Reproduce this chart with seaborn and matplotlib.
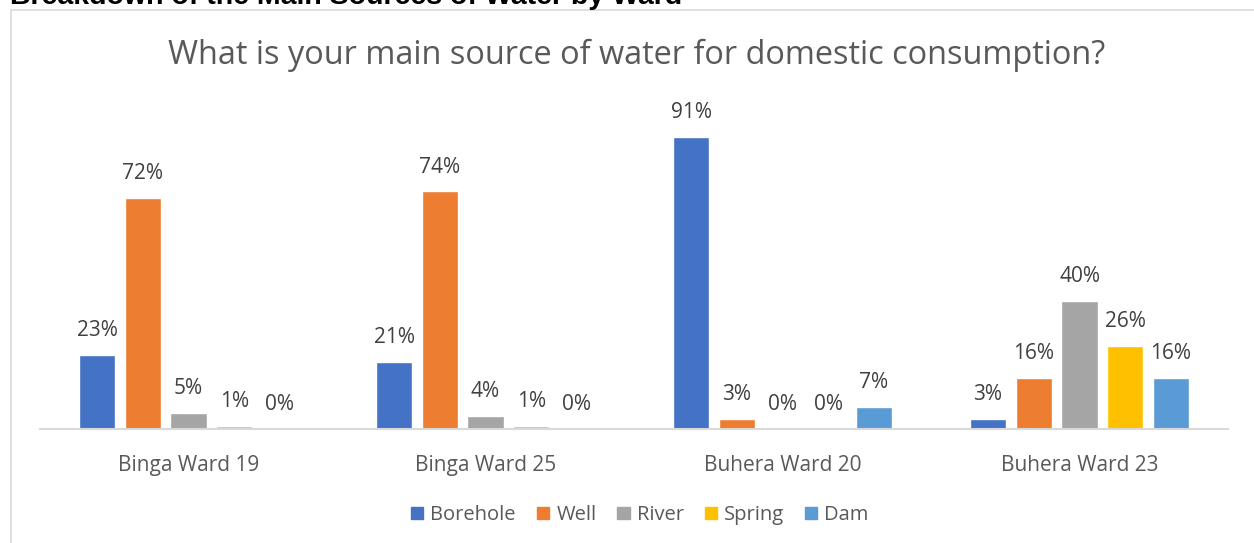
import matplotlib
matplotlib.use("Agg")
import matplotlib.pyplot as plt
import seaborn as sns
import pandas as pd
from matplotlib.patches import Rectangle

wards = ["Binga Ward 19", "Binga Ward 25", "Buhera Ward 20", "Buhera Ward 23"]
sources = ["Borehole", "Well", "River", "Spring", "Dam"]
borehole = [23, 21, 91, 3]
well = [72, 74, 3, 16]
river = [5, 4, 0, 40]
spring = [1, 1, 0, 26]
dam = [0, 0, 7, 16]
colors = ["#4472C4", "#ED7D31", "#A5A5A5", "#FFC000", "#5B9BD5"]

rows = []
for src, vals in zip(sources, [borehole, well, river, spring, dam]):
    for w, v in zip(wards, vals):
        rows.append({"Ward": w, "Source": src, "Pct": v})
df = pd.DataFrame(rows)

sns.set_theme(style="white")
plt.rcParams["font.family"] = ["Open Sans", "DejaVu Sans"]

W, H = 1254, 543
fig = plt.figure(figsize=(W / 100, H / 100), dpi=100)
ax = fig.add_axes([40 / W, (H - 429) / H, (1228 - 40) / W, 321 / H])

sns.barplot(data=df, x="Ward", y="Pct", hue="Source", order=wards,
            hue_order=sources, palette=colors, width=0.77, gap=0.21,
            saturation=1, ax=ax, legend=False)

text_col = "#595959"
for cont in ax.containers:
    ax.bar_label(cont, labels=[f"{int(v)}%" for v in cont.datavalues],
                 padding=10, fontsize=15, color="#404040")

ax.set_xlim(-0.5, 3.5)
ax.set_ylim(0, 100)
ax.set_xlabel("")
ax.set_ylabel("")
ax.set_yticks([])
ax.tick_params(axis="x", length=0, pad=19, labelsize=15, labelcolor=text_col)
for s in ["top", "right", "left"]:
    ax.spines[s].set_visible(False)
ax.spines["bottom"].set_color("#D9D9D9")
ax.spines["bottom"].set_linewidth(1.5)

handles = [Rectangle((0, 0), 1, 1, color=c) for c in colors]
fig.legend(handles, sources, loc="center", ncol=5, frameon=False,
           bbox_to_anchor=(640 / W, 1 - 515 / H), fontsize=14.5,
           handlelength=0.6, handleheight=0.6, handletextpad=0.35,
           columnspacing=1.05, labelcolor=text_col)

fig.text(637 / W, 1 - 55 / H,
         "What is your main source of water for domestic consumption?",
         ha="center", va="center", fontsize=23.4, color=text_col)

# chart frame
fig.add_artist(Rectangle((11 / W, -0.1), 1.2, 1 - 10 / H + 0.1,
                         transform=fig.transFigure, fill=False,
                         edgecolor="#D9D9D9", linewidth=1.2))

fig.text(10 / W, 1 - 4 / H, "Breakdown of the Main Sources of Water by Ward",
         ha="left", va="baseline", fontsize=20.5, fontweight="bold",
         color="black", family=["Liberation Sans", "DejaVu Sans"])

fig.savefig("out.png", dpi=100)
